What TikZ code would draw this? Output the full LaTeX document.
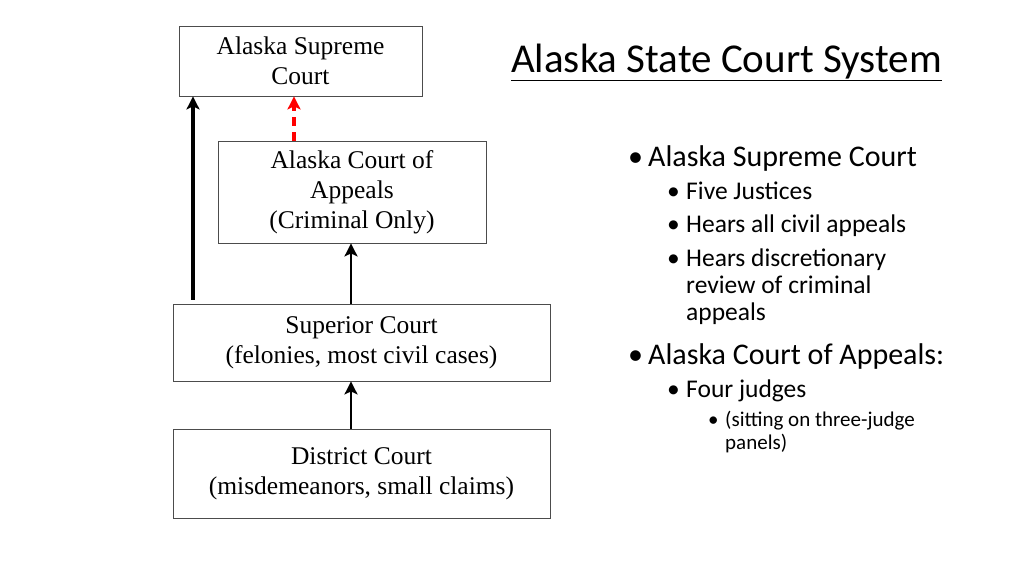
\documentclass[tikz,border=0pt]{standalone}
\usepackage{fontspec}
\setmainfont{Liberation Serif}
\newfontfamily\calfnt{Carlito}
\usetikzlibrary{arrows.meta}
\begin{document}
\begin{tikzpicture}[x=1pt,y=-1pt,
 court/.style={draw=black!70,line width=0.8pt,align=center,font=\fontsize{25.5}{30}\selectfont,inner sep=0pt},
 up/.style={-{Stealth[length=13pt,width=13pt,inset=3pt]}},
 bl/.style={anchor=base west,inner sep=0pt,font=\calfnt}]
\useasboundingbox (0,0) rectangle (1024,576);
\node[court,minimum width=243,minimum height=70] (sup) at (300.5,61) {Alaska Supreme\\Court};
\node[court,minimum width=268,minimum height=102] (app) at (352,192) {Alaska Court of\\Appeals\\(Criminal Only)};
\node[court,minimum width=377,minimum height=77] (spr) at (361.5,342.5) {Superior Court\\(felonies, most civil cases)};
\node[court,minimum width=377,minimum height=89] (dis) at (361.5,473.5) {District Court\\(misdemeanors, small claims)};
\draw[up,line width=4pt] ([yshift=4pt]spr.north west -| 193,0) -- (sup.south west -| 193,0);
\draw[up,line width=4pt,red,dash pattern=on 9pt off 6pt] (app.north -| 294,0) -- (sup.south -| 294,0);
\draw[up,line width=2.5pt] (spr.north -| 351,0) -- (app.south -| 351,0);
\draw[up,line width=2.5pt] (dis.north -| 351,0) -- (spr.south -| 351,0);
\node[bl,font=\calfnt\fontsize{41}{41}\selectfont] (t) at (511,72) {\underline{Alaska State Court System}};
\begin{scope}[every node/.style={bl}]
\node[font=\calfnt\fontsize{30}{30}\selectfont] (b1) at (628,166) {•};
\node[font=\calfnt\fontsize{30}{30}\selectfont] (b1t) at (648,166) {Alaska Supreme Court};
\foreach \y/\t in {199/Five Justices,232/Hears all civil appeals,266/Hears discretionary}{
 \node[font=\calfnt\fontsize{25.5}{25}\selectfont] at (667,\y) {•};
 \node[font=\calfnt\fontsize{25.5}{25}\selectfont] at (686,\y) {\t};}
\node[font=\calfnt\fontsize{25.5}{25}\selectfont] (r2) at (686,293) {review of criminal};
\node[font=\calfnt\fontsize{25.5}{25}\selectfont] (r3) at (686,320) {appeals};
\node[font=\calfnt\fontsize{30}{30}\selectfont] (b2) at (628,364) {•};
\node[font=\calfnt\fontsize{30}{30}\selectfont] (b2t) at (648,364) {Alaska Court of Appeals:};
\node[font=\calfnt\fontsize{25.5}{25}\selectfont] (s1) at (667,397) {•};
\node[font=\calfnt\fontsize{25.5}{25}\selectfont] (s1t) at (686,397) {Four judges};
\node[font=\calfnt\fontsize{21}{21}\selectfont] (ss) at (708,426) {•};
\node[font=\calfnt\fontsize{21}{21}\selectfont] (sst) at (725,426) {(sitting on three-judge};
\node[font=\calfnt\fontsize{21}{21}\selectfont] (ss2) at (725,449) {panels)};
\end{scope}
\end{tikzpicture}
\end{document}
